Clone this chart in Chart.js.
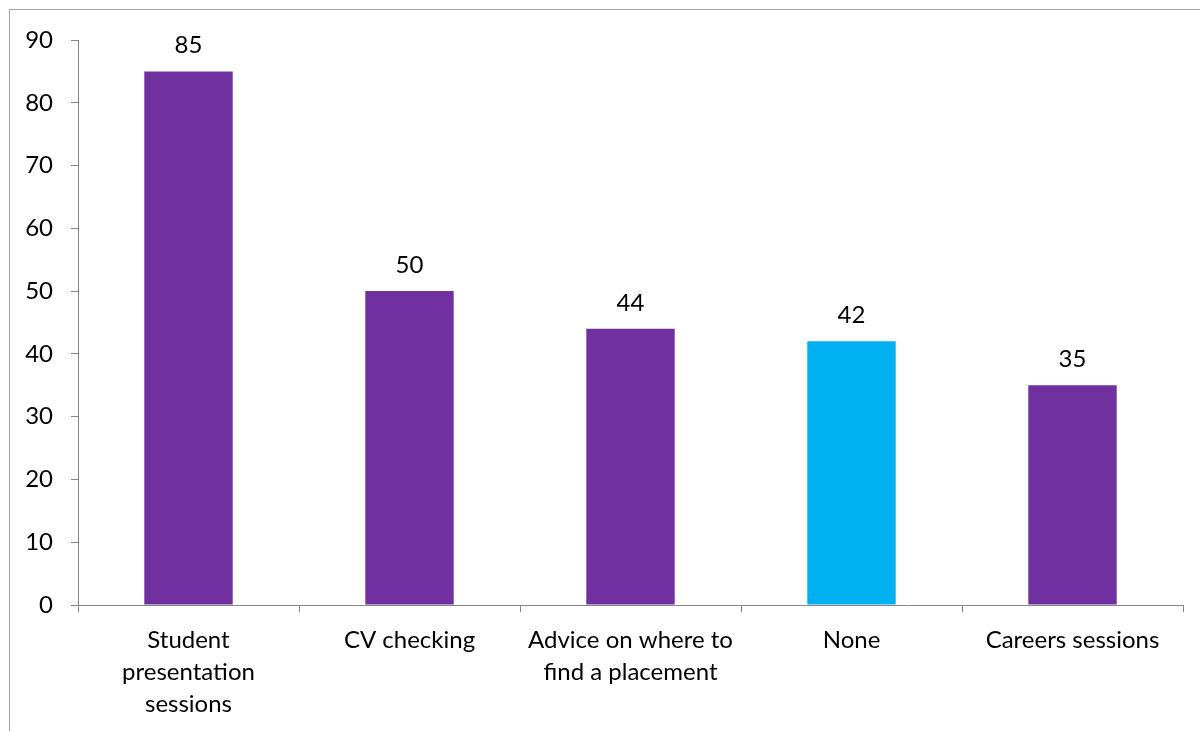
<!DOCTYPE html>
<html>
<head>
<meta charset="utf-8">
<script src="https://cdn.jsdelivr.net/npm/chart.js@4"></script>
<style>
  html, body { margin: 0; padding: 0; background: #fff; overflow: hidden; }
  #frame { position: absolute; left: 9px; top: 9px; width: 1400px; height: 900px; border: 1px solid #a6a6a6; }
  #wrap { position: absolute; left: 0; top: 0; width: 1200px; height: 731px; }
</style>
</head>
<body>
<div id="frame"></div>
<div id="wrap"><canvas id="chart"></canvas></div>
<script>
const categories = [
  ['Student', 'presentation', 'sessions'],
  'CV checking',
  ['Advice on where to', 'find a placement'],
  'None',
  'Careers sessions'
];
const values = [85, 50, 44, 42, 35];
const barColors = ['#7030a0', '#7030a0', '#7030a0', '#00b0f0', '#7030a0'];
const yTicks = [0, 10, 20, 30, 40, 50, 60, 70, 80, 90];

const FONT = 'Lato, "Open Sans", sans-serif';
const axisGray = '#868686';

// label angka di atas bar
const valueLabels = {
  id: 'valueLabels',
  afterDatasetsDraw(chart) {
    const ctx = chart.ctx;
    const meta = chart.getDatasetMeta(0);
    ctx.save();
    ctx.font = '24px ' + FONT;
    ctx.fillStyle = '#000';
    ctx.textAlign = 'center';
    ctx.textBaseline = 'alphabetic';
    meta.data.forEach((bar, i) => {
      ctx.fillText(String(values[i]), bar.x, bar.y - 18);
    });
    ctx.restore();
  }
};

new Chart(document.getElementById('chart'), {
  type: 'bar',
  data: {
    labels: categories,
    datasets: [{
      data: values,
      backgroundColor: barColors,
      categoryPercentage: 1,
      barPercentage: 0.4
    }]
  },
  plugins: [valueLabels],
  options: {
    responsive: true,
    maintainAspectRatio: false,
    animation: false,
    layout: { padding: { top: 40, right: 17, bottom: 0, left: 0 } },
    plugins: { legend: { display: false }, tooltip: { enabled: false } },
    scales: {
      x: {
        grid: { display: true, offset: true, drawOnChartArea: false, drawTicks: true, tickLength: 7, color: axisGray },
        border: { color: axisGray },
        ticks: { color: '#000', font: { family: FONT, size: 24, lineHeight: 1.33 }, padding: 12, maxRotation: 0, autoSkip: false },
        afterFit(scale) { scale.height = 126; }
      },
      y: {
        min: 0,
        max: 90,
        afterBuildTicks(scale) { scale.ticks = yTicks.map(v => ({ value: v })); },
        grid: { display: true, drawOnChartArea: false, drawTicks: true, tickLength: 7, color: axisGray },
        border: { color: axisGray },
        ticks: { color: '#000', font: { family: FONT, size: 24 }, padding: 18 },
        afterFit(scale) { scale.width = 78; }
      }
    }
  }
});
</script>
</body>
</html>
